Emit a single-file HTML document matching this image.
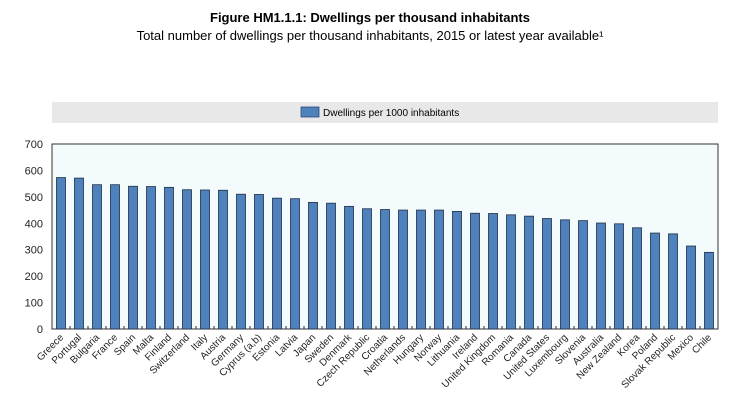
<!DOCTYPE html>
<html><head><meta charset="utf-8"><style>
body{margin:0;background:#fff;width:740px;height:404px;overflow:hidden;font-family:"Liberation Sans",Arial,sans-serif}
</style></head><body>
<svg width="740" height="404" xmlns="http://www.w3.org/2000/svg" font-family="Liberation Sans, Arial, sans-serif">
<text x="370" y="22" text-anchor="middle" font-size="13" font-weight="bold">Figure HM1.1.1: Dwellings per thousand inhabitants</text>
<text x="370" y="40" text-anchor="middle" font-size="13">Total number of dwellings per thousand inhabitants, 2015 or latest year available¹</text>
<rect x="52" y="102" width="666" height="21" fill="#e8e8e8"/>
<g>
<rect x="301" y="107" width="18" height="10" fill="#4f81bd" stroke="#2a4a75" stroke-width="0.8"/>
<text x="323" y="116" font-size="10">Dwellings per 1000 inhabitants</text>
</g>
<rect x="52" y="144" width="666" height="185" fill="#f3fbfd" stroke="#333" stroke-width="1"/>
<g id="yaxis"></g><g id="bars"></g><g id="xaxis"></g>
</svg>
<script>
const categories=["Greece","Portugal","Bulgaria","France","Spain","Malta","Finland","Switzerland","Italy","Austria","Germany","Cyprus (a,b)","Estonia","Latvia","Japan","Sweden","Denmark","Czech Republic","Croatia","Netherlands","Hungary","Norway","Lithuania","Ireland","United Kingdom","Romania","Canada","United States","Luxembourg","Slovenia","Australia","New Zealand","Korea","Poland","Slovak Republic","Mexico","Chile"];
const values=[573,571,546,546,540,539,536,527,526,525,510,509,495,493,479,476,464,455,452,450,450,450,445,438,437,432,427,418,413,410,401,398,383,363,360,314,290];
const yTicks=[0,100,200,300,400,500,600,700];
const NS="http://www.w3.org/2000/svg";
const L=52,R=718,T=144,B=329,YMAX=700;
const band=(R-L)/categories.length;
function y(v){return B-(v/YMAX)*(B-T);}
function xc(i){return L+band*(i+0.5);}
function mk(tag,attrs,parent){const e=document.createElementNS(NS,tag);for(const k in attrs)e.setAttribute(k,attrs[k]);parent.appendChild(e);return e;}
const ya=document.getElementById('yaxis'),ba=document.getElementById('bars'),xa=document.getElementById('xaxis');
yTicks.forEach(t=>{
 const tx=mk('text',{x:43,y:y(t)+4,'text-anchor':'end','font-size':11,fill:'#222'},ya);
 tx.textContent=t;
 
 
});
categories.forEach((c,i)=>{
 const r=mk('rect',{x:xc(i)-4.5,y:y(values[i]),width:9,height:B-y(values[i]),fill:'#4f81bd',stroke:'#1f2f45','stroke-width':0.8},ba);
 
 
 const tk=mk('line',{x1:L+band*(i+1),x2:L+band*(i+1),y1:B,y2:B-3,stroke:'#333','stroke-width':1},xa);
 
 
 const tx=mk('text',{x:xc(i)+3,y:B+9,'text-anchor':'end','font-size':10,fill:'#222',transform:`rotate(-45 ${xc(i)+3} ${B+9})`},xa);
 tx.textContent=c;
 
 
});
</script>
</body></html>
